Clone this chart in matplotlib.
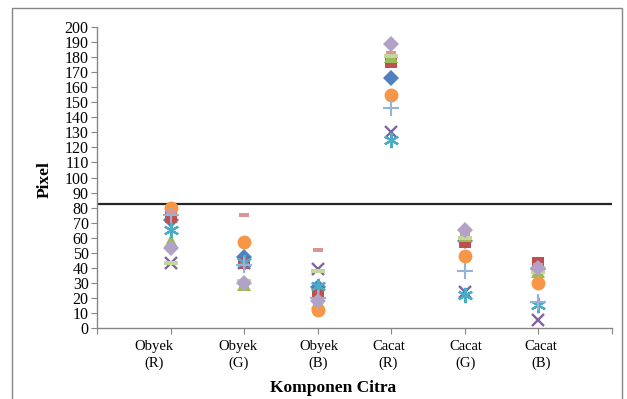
import matplotlib
matplotlib.use("Agg")
import matplotlib.pyplot as plt
from matplotlib.patches import Rectangle
from matplotlib.path import Path
import numpy as np

categories = ["Obyek\n(R)", "Obyek\n(G)", "Obyek\n(B)", "Cacat\n(R)", "Cacat\n(G)", "Cacat\n(B)"]
cat_x = [1, 2, 3, 4, 5, 6]

s1_blue_diamond = [72, 47, 27, 166, 58, 39]
s2_red_square = [74, 43, 23, 177, 57, 43]
s3_green_triangle = [58, 29, 17, 181, 62, 38]
s4_purple_x = [43, 43, 39, 130, 24, 5]
s5_cyan_star = [65, 44, 28, 125, 22, 15]
s6_orange_circle = [80, 57, 12, 155, 48, 30]
s7_blue_plus = [75, 42, 20, 146, 38, 17]
s8_pink_dash = [77, 75, 52, 183, 62, 42]
s9_green_dash = [43, 31, 38, 181, 60, 37]
s10_lavender_diamond = [53, 30, 18, 189, 65, 40]
threshold = 82.5

plt.rcParams['font.family'] = ['Liberation Serif', 'DejaVu Serif']

fig = plt.figure(figsize=(6.27, 3.99), dpi=100)
ax = fig.add_axes([97/627, 1 - 328/399, (612-97)/627, (328-27)/399])

short_dash = Path([(-1, -0.4), (1, -0.4), (1, 0.4), (-1, 0.4), (-1, -0.4)],
                  [Path.MOVETO, Path.LINETO, Path.LINETO, Path.LINETO, Path.CLOSEPOLY])
long_dash = Path([(-1, -0.3), (1, -0.3), (1, 0.3), (-1, 0.3), (-1, -0.3)],
                 [Path.MOVETO, Path.LINETO, Path.LINETO, Path.LINETO, Path.CLOSEPOLY])

series = [
    (s1_blue_diamond, dict(marker='D', color='#4F81BD', ms=8.5, mew=0)),
    (s2_red_square, dict(marker='s', color='#C0504D', ms=8.5, mew=0)),
    (s3_green_triangle, dict(marker='^', color='#9BBB59', ms=10, mew=0)),
    (s4_purple_x, dict(marker='x', color='#8064A2', ms=9, mew=1.7)),
    (s5_cyan_star, dict(marker=(6, 2, 0), color='#4BACC6', ms=11, mew=1.6)),
    (s6_orange_circle, dict(marker='o', color='#F79646', ms=10, mew=0)),
    (s7_blue_plus, dict(marker='+', color='#95B3D7', ms=11, mew=1.5)),
    (s8_pink_dash, dict(marker=short_dash, color='#D99694', ms=6.5, mew=0)),
    (s9_green_dash, dict(marker=long_dash, color='#C3D69B', ms=10.5, mew=0)),
    (s10_lavender_diamond, dict(marker='D', color='#B3A2C7', ms=8.5, mew=0)),
]
for vals, st in series:
    ax.plot(cat_x, vals, linestyle='none', marker=st['marker'], color=st['color'],
            markersize=st['ms'], markeredgewidth=st['mew'], zorder=3)

ax.axhline(threshold, color='#262626', lw=1.6, zorder=2)

ax.set_xlim(0, 7)
ax.set_ylim(0, 200)
ax.set_yticks(np.arange(0, 201, 10))
ax.set_xticks(np.arange(0, 8, 1))
ax.set_xticklabels([])
ax.tick_params(axis='y', direction='out', length=4, color='#868686', labelsize=11.5, pad=2)
ax.tick_params(axis='x', direction='out', length=4, color='#868686')
for sp in ['top', 'right']:
    ax.spines[sp].set_visible(False)
for sp in ['left', 'bottom']:
    ax.spines[sp].set_color('#868686')
    ax.spines[sp].set_linewidth(1)

label_pos = [0.77, 1.92, 3.01, 3.96, 5.01, 6.03]
for lab, xp in zip(categories, label_pos):
    ax.text(xp, -8, lab, ha='center', va='top', fontsize=10.5, linespacing=1.3,
            transform=ax.transData, clip_on=False)

fig.text(333/627, 1 - 388/399, "Komponen Citra", ha='center', va='center',
         fontsize=12.5, fontweight='bold')
fig.text(45/627, 1 - 180/399, "Pixel", ha='center', va='center', rotation=90,
         fontsize=12.5, fontweight='bold')

fig.patches.append(Rectangle((12/627, -0.01), (622-12)/627, 1 - 8/399 + 0.01,
                             transform=fig.transFigure, fill=False,
                             edgecolor='#868686', lw=1))

fig.savefig("out.png", dpi=100)
